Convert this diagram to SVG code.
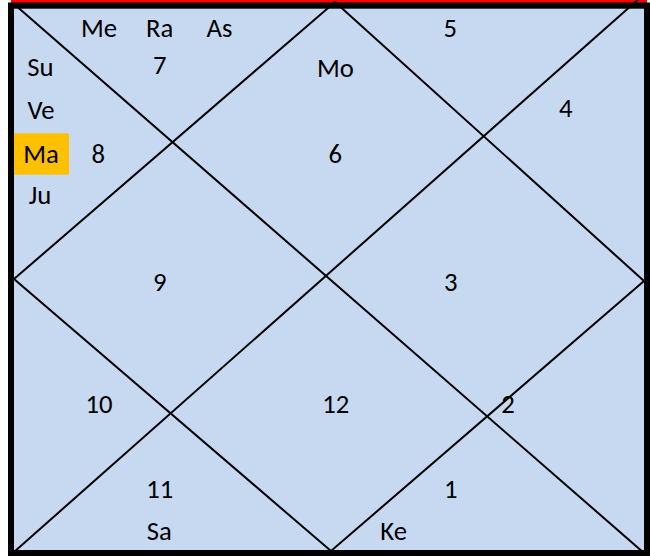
<svg xmlns="http://www.w3.org/2000/svg" width="650" height="556" viewBox="0 0 650 556">
<style>
.t{font-family:Calibri,Carlito,"Open Sans",sans-serif;font-size:26.7px;fill:#000;text-anchor:middle}
.ln{stroke:#000;stroke-width:2;fill:none}
</style>
<rect x="0" y="0" width="650" height="556" fill="#fff"/>
<rect x="11" y="0" width="636" height="3" fill="#FF0000"/>
<rect x="8" y="2.5" width="642" height="553.5" fill="#000"/>
<rect x="14" y="8.7" width="630" height="541.3" fill="#C6D9F0"/>
<rect x="14" y="133.3" width="55" height="41.4" fill="#FFC000"/>
<g id="connectors">
<line class="ln" x1="14" y1="4" x2="644" y2="553"/>
<line class="ln" x1="14" y1="552" x2="650" y2="-11"/>
<polygon class="ln" points="335,2 644,281 331,551 14,279"/>
</g>
<g id="house1"><text class="t" x="450.8" y="498.3">1</text><text class="t" x="393.7" y="540">Ke</text></g>
<g id="house2"><text class="t" x="508" y="412.7">2</text></g>
<g id="house3"><text class="t" x="450.7" y="290.7">3</text></g>
<g id="house4"><text class="t" x="565.7" y="117.3">4</text></g>
<g id="house5"><text class="t" x="450.3" y="36.7">5</text></g>
<g id="house6"><text class="t" x="335.5" y="76.7">Mo</text><text class="t" x="335.3" y="162.7">6</text></g>
<g id="house7"><text class="t" x="99" y="36.7">Me</text><text class="t" x="159.7" y="36.7">Ra</text><text class="t" x="219.5" y="36.7">As</text><text class="t" x="159.7" y="74.3">7</text></g>
<g id="house8"><text class="t" x="40.3" y="76">Su</text><text class="t" x="41" y="119">Ve</text><text class="t" x="41" y="162.7">Ma</text><text class="t" x="98.3" y="162.7">8</text><text class="t" x="40" y="203.5">Ju</text></g>
<g id="house9"><text class="t" x="159.7" y="290.7">9</text></g>
<g id="house10"><text class="t" x="99" y="412.7">10</text></g>
<g id="house11"><text class="t" x="159.7" y="498.3">11</text><text class="t" x="159.2" y="540">Sa</text></g>
<g id="house12"><text class="t" x="335.7" y="412.7">12</text></g>
</svg>
